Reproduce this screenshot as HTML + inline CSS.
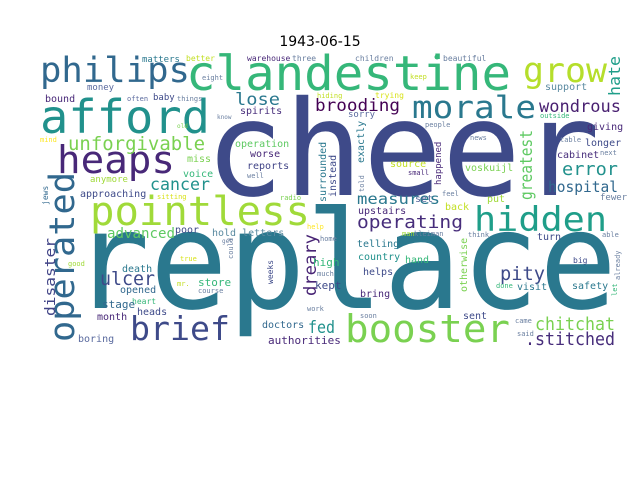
<!DOCTYPE html>
<html><head><meta charset="utf-8"><style>
html,body{margin:0;padding:0;background:#fff;width:640px;height:480px;overflow:hidden}
svg{display:block}
text{font-family:"DejaVu Sans Mono","Liberation Mono",monospace}
.t{font-family:"DejaVu Sans","Liberation Sans",sans-serif}
</style></head><body>
<svg width="640" height="480" viewBox="0 0 640 480">
<text class="t" x="320" y="46" font-size="14" text-anchor="middle" fill="#000">1943-06-15</text>
<g>
<text x="205" y="195" font-size="132" textLength="395" lengthAdjust="spacingAndGlyphs" fill="#3e4a89">cheer</text>
<text x="72" y="308" font-size="136" textLength="545" lengthAdjust="spacingAndGlyphs" fill="#2a788e">replace</text>
<text x="186" y="90" font-size="48" textLength="325" lengthAdjust="spacingAndGlyphs" fill="#35b779">clandestine</text>
<text x="40" y="133" font-size="46" textLength="170" lengthAdjust="spacingAndGlyphs" fill="#21918c">afford</text>
<text x="40" y="82" font-size="35" textLength="150" lengthAdjust="spacingAndGlyphs" fill="#31688e">philips</text>
<text x="523" y="82" font-size="34" textLength="84" lengthAdjust="spacingAndGlyphs" fill="#b5de2b">grow</text>
<text x="412" y="118" font-size="31" textLength="124" lengthAdjust="spacingAndGlyphs" fill="#2a788e">morale</text>
<text x="57" y="173" font-size="38" textLength="118" lengthAdjust="spacingAndGlyphs" fill="#482878">heaps</text>
<text x="90" y="225" font-size="40" textLength="220" lengthAdjust="spacingAndGlyphs" fill="#a0da39">pointless</text>
<text x="474" y="231" font-size="34" textLength="133" lengthAdjust="spacingAndGlyphs" fill="#1f9e89">hidden</text>
<text transform="translate(74,342) rotate(-90)" font-size="35" textLength="170" lengthAdjust="spacingAndGlyphs" fill="#31688e">operated</text>
<text x="130" y="340" font-size="33" textLength="100" lengthAdjust="spacingAndGlyphs" fill="#3e4a89">brief</text>
<text x="345" y="342" font-size="38" textLength="165" lengthAdjust="spacingAndGlyphs" fill="#7ad151">booster</text>
<text x="68" y="150" font-size="19" textLength="137" lengthAdjust="spacingAndGlyphs" fill="#7ad151">unforgivable</text>
<text x="315" y="111" font-size="17" textLength="85" lengthAdjust="spacingAndGlyphs" fill="#440154">brooding</text>
<text x="539" y="112" font-size="17" textLength="82" lengthAdjust="spacingAndGlyphs" fill="#481f70">wondrous</text>
<text x="562" y="175" font-size="18" textLength="56" lengthAdjust="spacingAndGlyphs" fill="#21918c">error</text>
<text x="548" y="192" font-size="15" textLength="70" lengthAdjust="spacingAndGlyphs" fill="#31688e">hospital</text>
<text x="357" y="204" font-size="15" textLength="83" lengthAdjust="spacingAndGlyphs" fill="#2a788e">measures</text>
<text x="357" y="228" font-size="18" textLength="106" lengthAdjust="spacingAndGlyphs" fill="#472d7b">operating</text>
<text transform="translate(532,200) rotate(-90)" font-size="17" textLength="70" lengthAdjust="spacingAndGlyphs" fill="#5ec962">greatest</text>
<text transform="translate(620,96) rotate(-90)" font-size="16" textLength="40" lengthAdjust="spacingAndGlyphs" fill="#1f9e89">hate</text>
<text x="235" y="105" font-size="17" textLength="45" lengthAdjust="spacingAndGlyphs" fill="#2a788e">lose</text>
<text x="150" y="190" font-size="17" textLength="60" lengthAdjust="spacingAndGlyphs" fill="#21918c">cancer</text>
<text transform="translate(316,296) rotate(-90)" font-size="17" textLength="62" lengthAdjust="spacingAndGlyphs" fill="#482475">dreary</text>
<text transform="translate(55,316) rotate(-90)" font-size="14" textLength="78" lengthAdjust="spacingAndGlyphs" fill="#414487">disaster</text>
<text x="100" y="285" font-size="19" textLength="55" lengthAdjust="spacingAndGlyphs" fill="#3e4a89">ulcer</text>
<text x="107" y="238" font-size="14" textLength="68" lengthAdjust="spacingAndGlyphs" fill="#5ec962">advanced</text>
<text x="500" y="280" font-size="19" textLength="45" lengthAdjust="spacingAndGlyphs" fill="#3e4a89">pity</text>
<text x="535" y="330" font-size="18" textLength="80" lengthAdjust="spacingAndGlyphs" fill="#7ad151">chitchat</text>
<text x="525" y="345" font-size="18" textLength="90" lengthAdjust="spacingAndGlyphs" fill="#472d7b">.stitched</text>
<text x="308" y="333" font-size="17" textLength="27" lengthAdjust="spacingAndGlyphs" fill="#21918c">fed</text>

<g font-size="10">
<text x="142" y="62" font-size="9" fill="#2a788e">matters</text>
<text x="186" y="61" font-size="8" fill="#c2df23">better</text>
<text x="247" y="61" font-size="8" fill="#482878">warehouse</text>
<text x="292" y="61" font-size="8" fill="#6a7fa0">three</text>
<text x="202" y="80" font-size="7" fill="#6a7fa0">eight</text>
<text x="87" y="90" font-size="9" fill="#5a6a9e">money</text>
<text x="45" y="102" fill="#482878">bound</text>
<text x="127" y="101" font-size="7" fill="#5a6a9e">often</text>
<text x="153" y="100" font-size="9" fill="#3e4a89">baby</text>
<text x="177" y="101" font-size="7" fill="#6a7fa0">things</text>
<text x="217" y="119" font-size="6" fill="#6a7fa0">know</text>
<text x="177" y="128" font-size="6" fill="#7ad151">old</text>
<text x="240" y="114" fill="#472d7b">spirits</text>
<text x="235" y="147" fill="#5ec962">operation</text>
<text x="250" y="157" fill="#482878">worse</text>
<text x="187" y="162" fill="#7ad151">miss</text>
<text x="247" y="169" fill="#414487">reports</text>
<text x="183" y="177" fill="#35b779">voice</text>
<text x="247" y="178" font-size="7" fill="#6a7fa0">well</text>
<text x="90" y="182" font-size="9" fill="#a0da39">anymore</text>
<text x="80" y="197" fill="#3e4a89">approaching</text>
<text x="157" y="199" font-size="7" fill="#d8e219">sitting</text>
<text x="280" y="200" font-size="7" fill="#7ad151">radio</text>
<text transform="translate(326,202) rotate(-90)" fill="#2a788e">surrounded</text>
<text transform="translate(336,197) rotate(-90)" fill="#3e4a89">instead</text>
<text x="40" y="142" font-size="7" fill="#fde725">mind</text>
<text transform="translate(48,205) rotate(-90)" font-size="8" fill="#31688e">jews</text>
<text x="317" y="98" font-size="7" fill="#c2df23">hiding</text>
<text x="355" y="61" font-size="8" fill="#6a7fa0">children</text>
<text x="443" y="61" font-size="8" fill="#6a7fa0">beautiful</text>
<circle cx="437" cy="57" r="2.5" fill="#35b779"/>
<text x="410" y="79" font-size="7" fill="#c2df23">keep</text>
<text x="375" y="98" font-size="8" fill="#d8e219">trying</text>
<text x="545" y="90" fill="#5a8aa0">support</text>
<text x="348" y="117" font-size="9" fill="#5a6a9e">sorry</text>
<text x="540" y="118" font-size="7" fill="#35b779">outside</text>
<text x="425" y="127" font-size="7" fill="#6a7fa0">people</text>
<text x="587" y="130" fill="#482878">giving</text>
<text x="470" y="140" font-size="7" fill="#6a7fa0">news</text>
<text x="560" y="142" font-size="7" fill="#6a7fa0">table</text>
<text x="585" y="146" fill="#3e4a89">longer</text>
<text transform="translate(364,163) rotate(-90)" fill="#2a788e">exactly</text>
<text x="557" y="158" fill="#472d7b">cabinet</text>
<text x="600" y="155" font-size="7" fill="#6a7fa0">next</text>
<text x="390" y="167" fill="#c2df23">source</text>
<text x="408" y="175" font-size="7" fill="#482878">small</text>
<text transform="translate(441,185) rotate(-90)" font-size="9" fill="#482878">happened</text>
<text x="465" y="171" fill="#7ad151">voskuijl</text>
<text transform="translate(364,192) rotate(-90)" font-size="7" fill="#6a7fa0">told</text>
<text x="442" y="196" font-size="7" fill="#6a7fa0">feel</text>
<text x="600" y="200" font-size="9" fill="#6a7fa0">fewer</text>
<text x="487" y="202" fill="#a0da39">put</text>
<text x="445" y="210" fill="#c2df23">back</text>
<text x="415" y="202" fill="#5a6a9e">set</text>
<text x="358" y="214" fill="#482878">upstairs</text>
<text x="175" y="233" fill="#3e4a89">poor</text>
<text x="212" y="236" fill="#5a8aa0">hold letters</text>
<text x="307" y="229" font-size="7" fill="#fde725">help</text>
<text x="320" y="241" font-size="7" fill="#6a7fa0">home</text>
<text x="222" y="243" font-size="6" fill="#6a7fa0">get</text>
<text transform="translate(233,259) rotate(-90)" font-size="7" fill="#6a7fa0">could</text>
<text transform="translate(273,284) rotate(-90)" font-size="8" fill="#3e4a89">weeks</text>
<text x="68" y="266" font-size="7" fill="#a0da39">good</text>
<text x="180" y="261" font-size="7" fill="#d8e219">true</text>
<text x="122" y="272" fill="#2a788e">death</text>
<text x="313" y="266" font-size="11" fill="#35b779">high</text>
<text x="317" y="276" font-size="7" fill="#6a7fa0">much</text>
<text x="198" y="286" font-size="11" fill="#35b779">store</text>
<text x="177" y="286" font-size="7" fill="#c2df23">mr.</text>
<text x="315" y="289" font-size="11" fill="#3e4a89">kept</text>
<text x="120" y="293" fill="#31688e">opened</text>
<text x="198" y="293" font-size="7" fill="#6a7fa0">course</text>
<text x="132" y="304" font-size="8" fill="#35b779">heart</text>
<text x="102" y="308" font-size="11" fill="#31688e">stage</text>
<text x="307" y="311" font-size="7" fill="#6a7fa0">work</text>
<text x="137" y="315" fill="#3e4a89">heads</text>
<text x="97" y="320" fill="#482878">month</text>
<text x="262" y="328" fill="#31688e">doctors</text>
<text x="78" y="342" fill="#5a6a9e">boring</text>
<text x="268" y="344" font-size="11" fill="#482878">authorities</text>
<text x="402" y="236" font-size="7" fill="#a0da39">man</text>
<text x="414" y="236" font-size="7" fill="#6a7fa0">kleiman</text>
<text x="468" y="237" font-size="7" fill="#6a7fa0">think</text>
<text x="602" y="237" font-size="7" fill="#6a7fa0">able</text>
<text x="537" y="240" fill="#3e4a89">turn</text>
<text x="357" y="247" fill="#2a788e">telling</text>
<text transform="translate(467,292) rotate(-90)" fill="#7ad151">otherwise</text>
<text transform="translate(620,280) rotate(-90)" font-size="7" fill="#6a7fa0">already</text>
<text x="358" y="260" fill="#21918c">country</text>
<text x="405" y="263" fill="#35b779">hand</text>
<text x="573" y="263" font-size="8" fill="#3e4a89">big</text>
<text x="363" y="275" fill="#3e4a89">helps</text>
<text x="496" y="288" font-size="7" fill="#35b779">done</text>
<text x="517" y="290" fill="#2a788e">visit</text>
<text x="572" y="289" fill="#2a788e">safety</text>
<text transform="translate(617,296) rotate(-90)" font-size="7" fill="#35b779">let</text>
<text x="360" y="297" fill="#482878">bring</text>
<text x="360" y="318" font-size="7" fill="#6a7fa0">soon</text>
<text x="463" y="319" fill="#3e4a89">sent</text>
<text x="515" y="323" font-size="7" fill="#6a7fa0">came</text>
<text x="517" y="336" font-size="7" fill="#6a7fa0">said</text>
</g>
</g>
</svg>
</body></html>
